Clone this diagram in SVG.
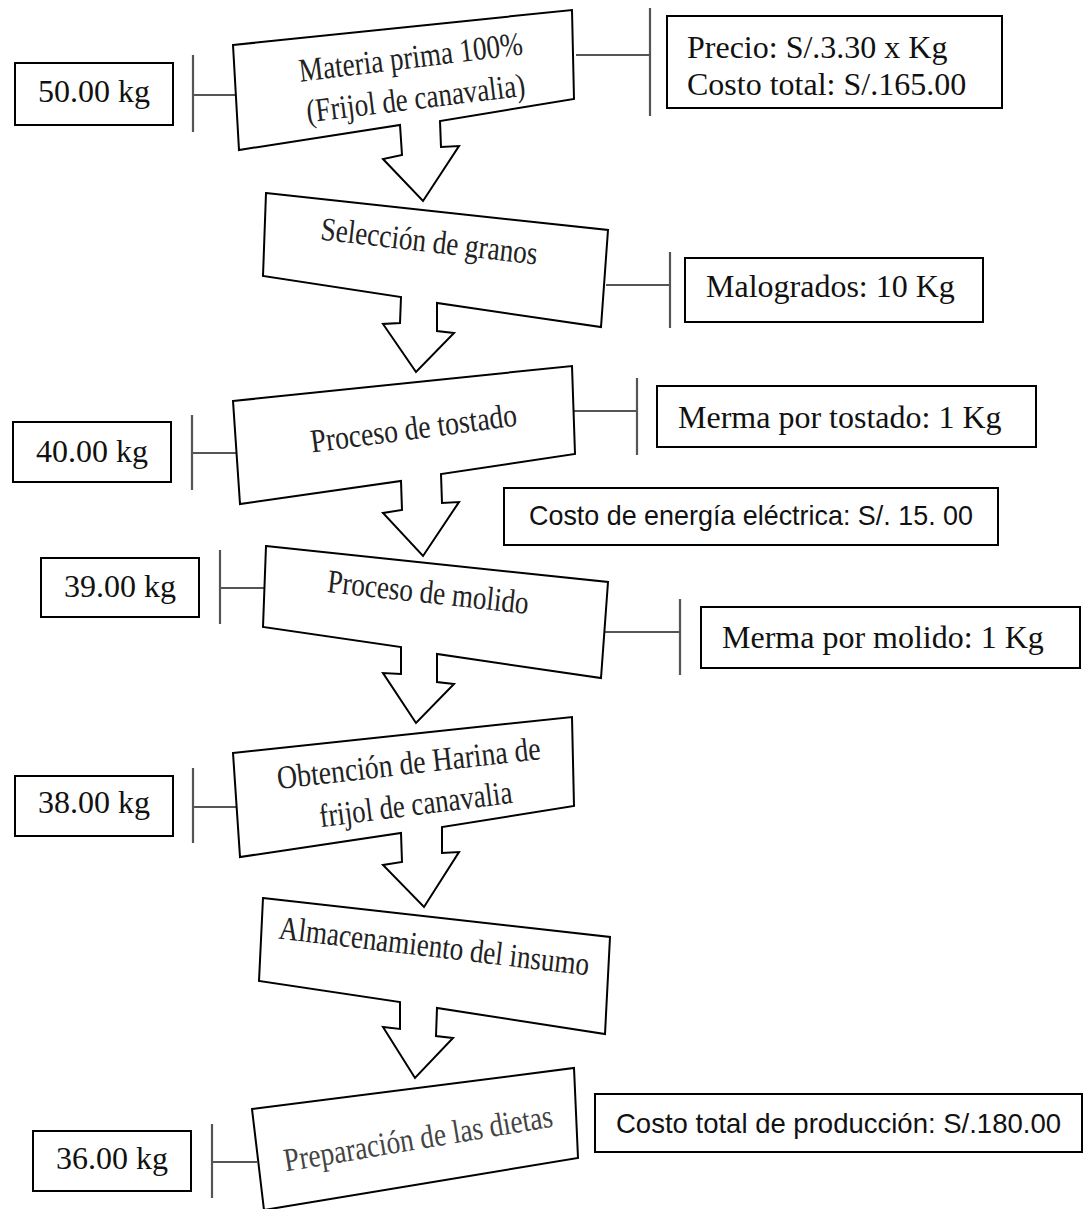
<svg xmlns="http://www.w3.org/2000/svg" width="1085" height="1209" viewBox="0 0 1085 1209">
<style>
.node{fill:#fff;stroke:#000;stroke-width:2;stroke-linejoin:miter}
.box{fill:#fff;stroke:#000;stroke-width:2}
.ser{font-family:"Liberation Serif","Times New Roman",serif;fill:#111;font-size:32px}
.nt{font-family:"Liberation Serif","Times New Roman",serif;fill:#222;font-size:33px;text-anchor:middle}
.san{font-family:"Liberation Sans",Arial,sans-serif;fill:#111;font-size:28px}
.conn{stroke:#555;stroke-width:2.2;fill:none}
</style>
<rect width="1085" height="1209" fill="#fff"/>
<g id="connectors">
<path class="conn" d="M193,55V132M193,95H236"/>
<path class="conn" d="M576,55H650M650,8V116"/>
<path class="conn" d="M606,285H670M670,252V328"/>
<path class="conn" d="M192,415V490M192,453H237"/>
<path class="conn" d="M574,411H637M637,378V455"/>
<path class="conn" d="M220,550V624M220,588H265"/>
<path class="conn" d="M603,632H680M680,599V675"/>
<path class="conn" d="M193,768V843M193,807H237"/>
<path class="conn" d="M212,1124V1198M212,1162H257"/>
</g>
<g id="n1">
<polygon class="node" points="233,45 572,10 574,99 440,121 441,147 459,146 423,201 383,159 402,155 400,125 239,150"/>
<text class="nt" x="412" y="68" transform="rotate(-7 412 68)" textLength="225" lengthAdjust="spacingAndGlyphs">Materia prima 100%</text>
<text class="nt" x="417" y="109" transform="rotate(-7 417 109)" textLength="220" lengthAdjust="spacingAndGlyphs">(Frijol de canavalia)</text>
</g>
<g id="n2">
<polygon class="node" points="266,193 608,230 601,327 437,303 437,331 454,333 416,372 383,324 400,323 401,297 263,276"/>
<text class="nt" x="428" y="252" transform="rotate(6.6 428 252)" textLength="218" lengthAdjust="spacingAndGlyphs">Selección de granos</text>
</g>
<g id="n3">
<polygon class="node" points="233,401 572,366 575,454 441,474 442,503 459,502 423,556 383,513 402,510 401,481 240,504"/>
<text class="nt" x="415" y="439" transform="rotate(-7.5 415 439)" textLength="208" lengthAdjust="spacingAndGlyphs">Proceso de tostado</text>
</g>
<g id="n4">
<polygon class="node" points="266,546 608,582 601,678 437,654 437,682 454,684 416,723 383,673 401,674 401,647 263,627"/>
<text class="nt" x="427" y="603" transform="rotate(6.2 427 603)" textLength="202" lengthAdjust="spacingAndGlyphs">Proceso de molido</text>
</g>
<g id="n5">
<polygon class="node" points="233,753 572,717 574,806 442,827 442,853 459,852 424,907 383,865 402,862 401,833 240,857"/>
<text class="nt" x="410" y="774" transform="rotate(-6.5 410 774)" textLength="265" lengthAdjust="spacingAndGlyphs">Obtención de Harina de</text>
<text class="nt" x="417" y="815" transform="rotate(-7.2 417 815)" textLength="194" lengthAdjust="spacingAndGlyphs">frijol de canavalia</text>
</g>
<g id="n6">
<polygon class="node" points="263,898 610,937 605,1034 437,1008 436,1036 453,1038 415,1078 383,1027 400,1029 400,1002 259,981"/>
<text class="nt" x="433" y="957" transform="rotate(6.8 433 957)" textLength="312" lengthAdjust="spacingAndGlyphs">Almacenamiento del insumo</text>
</g>
<g id="n7">
<polygon class="node" points="252,1109 574,1068 578,1158 264,1210"/>
<text class="nt" x="420" y="1149" transform="rotate(-9.5 420 1149)" textLength="272" lengthAdjust="spacingAndGlyphs" style="fill:#444">Preparación de las dietas</text>
</g>
<g id="b50">
<rect class="box" x="15" y="63" width="158" height="62"/>
<text class="ser" x="94" y="102" text-anchor="middle">50.00 kg</text>
</g>
<g id="b40">
<rect class="box" x="13" y="422" width="158" height="60"/>
<text class="ser" x="92" y="462" text-anchor="middle">40.00 kg</text>
</g>
<g id="b39">
<rect class="box" x="41" y="558" width="158" height="59"/>
<text class="ser" x="120" y="597" text-anchor="middle">39.00 kg</text>
</g>
<g id="b38">
<rect class="box" x="15" y="776" width="158" height="60"/>
<text class="ser" x="94" y="813" text-anchor="middle">38.00 kg</text>
</g>
<g id="b36">
<rect class="box" x="33" y="1131" width="158" height="60"/>
<text class="ser" x="112" y="1169" text-anchor="middle">36.00 kg</text>
</g>
<g id="precio">
<rect class="box" x="667" y="16" width="335" height="92"/>
<text class="ser" x="687" y="58">Precio: S/.3.30 x Kg</text>
<text class="ser" x="687" y="95">Costo total: S/.165.00</text>
</g>
<g id="malogrados">
<rect class="box" x="685" y="258" width="298" height="64"/>
<text class="ser" x="706" y="297">Malogrados: 10 Kg</text>
</g>
<g id="mtostado">
<rect class="box" x="657" y="386" width="379" height="61"/>
<text class="ser" x="678" y="428">Merma por tostado: 1 Kg</text>
</g>
<g id="energia">
<rect class="box" x="504" y="488" width="494" height="57"/>
<text class="san" x="529" y="525" textLength="444" lengthAdjust="spacingAndGlyphs">Costo de energía eléctrica: S/. 15. 00</text>
</g>
<g id="mmolido">
<rect class="box" x="701" y="607" width="379" height="61"/>
<text class="ser" x="722" y="648">Merma por molido: 1 Kg</text>
</g>
<g id="costototal">
<rect class="box" x="595" y="1094" width="487" height="58"/>
<text class="san" x="616" y="1133" textLength="445" lengthAdjust="spacingAndGlyphs">Costo total de producción: S/.180.00</text>
</g>
</svg>
